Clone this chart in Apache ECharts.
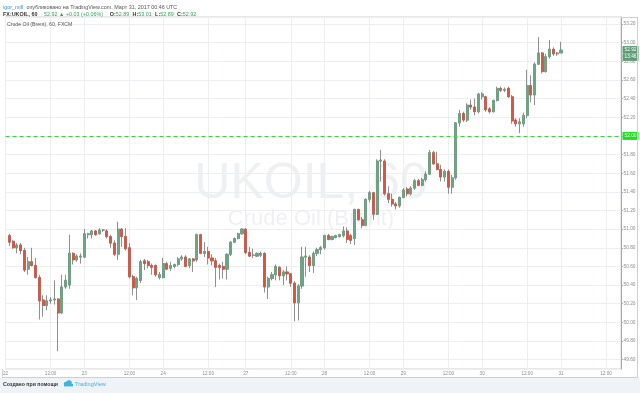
<!DOCTYPE html>
<html><head><meta charset="utf-8">
<script src="https://cdn.jsdelivr.net/npm/echarts@6/dist/echarts.min.js"></script>
<style>html,body{margin:0;padding:0;background:#fff}#c{width:640px;height:393px}</style>
</head><body><div id="c"></div>
<script>
// ---- data ----
const tradingDays = ['22','23','24','27','28','29','30','31'];
const sessionHours = ['00','01','02','03','04','05','06','07','08','09','10','11','12','13','14','15','16','17','18','19','20'];
const sundayBar = '26 23:00';
const slotCount = 165;
const tickHours = ['00:00','12:00'];
const alertLevel = 52.00;
const barTimer = '13:46';

const opens = [null,
50.93,50.87,50.80,50.83,50.77,50.57,50.65,50.61,50.48,50.24,50.18,50.23,50.24,50.25,50.10,50.38,50.40,50.74,50.67,50.70,
50.70,50.94,50.94,50.98,50.95,50.99,50.98,50.92,50.85,50.73,51.00,50.92,50.80,50.49,50.37,50.45,50.66,50.65,50.61,50.61,50.48,
50.48,50.63,50.58,50.60,50.62,50.68,50.70,50.61,50.68,50.67,50.94,50.74,50.76,50.69,50.66,50.61,50.60,50.57,50.73,50.86,50.90,
50.95,
51.00,50.75,50.72,50.71,50.72,50.74,50.38,50.47,50.51,50.59,50.50,50.54,50.52,50.42,50.21,50.39,50.70,50.70,50.61,50.74,50.78,
50.80,50.93,50.89,50.91,50.92,50.93,50.98,50.93,50.90,51.21,51.10,51.04,51.32,51.39,51.16,51.73,51.73,51.38,51.32,51.27,51.25,
51.34,51.43,51.38,51.44,51.52,51.47,51.53,51.59,51.82,51.70,51.64,51.56,51.62,51.45,51.55,52.14,52.24,52.17,52.33,52.31,52.26,
52.42,52.42,52.29,52.26,52.38,52.51,52.49,52.51,52.42,52.17,52.13,52.13,52.22,52.54,52.44,52.77,52.89,52.69,52.85,52.93,52.88,
52.89];
const closes = [null,
50.86,50.80,50.83,50.77,50.56,50.65,50.61,50.48,50.23,50.18,50.23,50.24,50.25,50.10,50.38,50.45,50.74,50.67,50.71,50.71,
50.95,50.95,50.98,50.94,50.99,50.99,50.92,50.85,50.73,51.00,50.92,50.79,50.49,50.37,50.47,50.65,50.63,50.61,50.59,50.51,50.51,
50.63,50.57,50.61,50.62,50.68,50.70,50.60,50.68,50.66,50.94,50.74,50.76,50.69,50.66,50.59,50.59,50.57,50.73,50.86,50.90,50.95,
51.00,
50.75,50.71,50.72,50.74,50.74,50.38,50.47,50.51,50.60,50.50,50.54,50.52,50.42,50.21,50.39,50.70,50.71,50.61,50.74,50.78,50.80,
50.93,50.89,50.92,50.93,50.94,50.98,50.89,50.88,51.21,51.10,51.04,51.32,51.39,51.16,51.73,51.74,51.38,51.32,51.27,51.25,51.34,
51.42,51.38,51.44,51.52,51.47,51.53,51.59,51.82,51.70,51.64,51.56,51.62,51.45,51.55,52.14,52.24,52.17,52.33,52.31,52.26,52.45,
52.45,52.28,52.26,52.38,52.51,52.49,52.50,52.42,52.16,52.13,52.15,52.22,52.54,52.44,52.77,52.89,52.69,52.85,52.93,52.88,52.89,
52.92];
const lows = [null,
50.82,50.79,50.74,50.73,50.54,50.51,50.60,50.47,50.03,50.06,50.13,50.20,50.19,49.69,50.09,50.36,50.36,50.62,50.65,50.63,
50.69,50.90,50.90,50.93,50.94,50.97,50.90,50.80,50.71,50.67,50.81,50.77,50.47,50.29,50.24,50.42,50.56,50.58,50.51,50.49,50.46,
50.47,50.56,50.55,50.58,50.60,50.66,50.59,50.58,50.54,50.65,50.73,50.70,50.62,50.61,50.38,50.46,50.47,50.46,50.71,50.85,50.89,
50.94,
50.73,50.70,50.69,50.70,50.70,50.32,50.25,50.45,50.45,50.45,50.40,50.45,50.38,50.01,50.02,50.36,50.49,50.54,50.53,50.71,50.73,
50.78,50.88,50.88,50.90,50.91,50.91,50.85,50.84,50.83,51.09,51.01,51.03,51.29,51.10,51.15,51.51,51.36,51.28,51.24,51.21,51.23,
51.33,51.35,51.36,51.42,51.46,51.46,51.51,51.58,51.69,51.63,51.51,51.51,51.38,51.38,51.53,52.10,52.15,52.15,52.28,52.22,52.24,
52.39,52.26,52.24,52.25,52.37,52.47,52.47,52.41,52.13,52.10,52.03,52.10,52.19,52.36,52.33,52.76,52.67,52.68,52.83,52.86,52.86,
52.89];
const highs = [null,
50.95,50.88,50.85,50.85,50.80,50.70,50.80,50.69,50.51,50.29,50.29,50.27,50.45,50.26,50.51,50.51,50.94,50.75,50.73,50.74,
51.00,50.96,50.99,50.99,51.01,51.00,51.00,50.94,50.88,51.08,51.01,51.01,50.85,50.51,50.49,50.67,50.68,50.67,50.63,50.62,50.54,
50.69,50.65,50.65,50.63,50.70,50.72,50.72,50.69,50.69,50.95,50.95,50.86,50.81,50.73,50.69,50.63,50.65,50.74,50.87,50.91,50.96,
51.01,
51.01,50.81,50.79,50.75,50.76,50.75,50.49,50.54,50.62,50.60,50.56,50.60,50.53,50.44,50.41,50.81,50.81,50.72,50.76,50.80,50.82,
50.94,50.95,50.93,50.94,50.95,51.03,51.02,50.95,51.22,51.22,51.13,51.33,51.41,51.40,51.75,51.85,51.75,51.46,51.38,51.29,51.35,
51.44,51.45,51.46,51.54,51.54,51.55,51.62,51.85,51.84,51.83,51.69,51.64,51.64,51.58,52.15,52.28,52.26,52.35,52.39,52.40,52.46,
52.47,52.43,52.31,52.39,52.53,52.53,52.52,52.53,52.44,52.19,52.19,52.25,52.71,52.65,52.79,53.06,52.90,52.88,53.03,52.95,52.90,
53.01];

// ---- build categories and rows ----
const categories = [];
tradingDays.forEach(d => {
  if (d === '27') categories.push(sundayBar);
  sessionHours.forEach(h => categories.push(d + ' ' + h + ':00'));
});
categories.length = slotCount;
const wickRows = [], bodyRows = [];
for (let i = 0; i < slotCount; i++) {
  const o = opens[i], c = closes[i], l = lows[i], h = highs[i];
  if (o == null) { wickRows.push('-'); bodyRows.push('-'); continue; }
  wickRows.push([o, c, l, h]);
  bodyRows.push([o, c, Math.min(o, c), Math.max(o, c)]);
}
const n = opens.length - 1;
const lastO = opens[n], lastC = closes[n], lastH = highs[n], lastL = lows[n];
const chg = lastC - closes[n - 1];
const chgPct = chg / closes[n - 1] * 100;
const isTick = v => tickHours.some(t => v.endsWith(' ' + t));

const UP = '#6ba583', DOWN = '#d75442', WICK = '#737375';
const FONT = 'Liberation Sans';
const chart = echarts.init(document.getElementById('c'), null, {renderer: 'canvas'});
chart.setOption({
  animation: false,
  textStyle: {fontFamily: FONT},
  grid: {left: 1.9, right: 19, top: 17, bottom: 24, show: true, borderColor: '#cdd0d3', borderWidth: 1},
  xAxis: {
    type: 'category', data: categories, boundaryGap: false,
    axisLine: {show: false}, axisTick: {show: false},
    axisLabel: {
      interval: (i, v) => isTick(v), margin: 2.5, fontSize: 4.6, color: '#8c8c8c', fontFamily: FONT,
      formatter: v => v.endsWith(' 00:00') ? v.split(' ')[0] : (v.endsWith(' 12:00') ? '12:00' : '')
    },
    splitLine: {show: true, interval: (i, v) => isTick(v), lineStyle: {color: '#eceef1', width: 1}}
  },
  yAxis: {
    type: 'value', position: 'right', min: 49.499, max: 53.276,
    splitNumber: 19, minInterval: 0.2, maxInterval: 0.2,
    axisLine: {show: true, lineStyle: {color: '#a8a8a8'}},
    axisTick: {show: true, length: 2, lineStyle: {color: '#a8a8a8'}},
    axisLabel: {showMinLabel: false, showMaxLabel: false, margin: 2.5, fontSize: 4.8, color: '#8c8c8c', fontFamily: FONT,
      formatter: v => v.toFixed(2)},
    splitLine: {show: true, lineStyle: {color: '#eceef1', width: 1}}
  },
  series: [
    {
      type: 'candlestick', data: wickRows, barWidth: 2.6, z: 3,
      itemStyle: {color: 'transparent', color0: 'transparent', borderColor: WICK, borderColor0: WICK, borderWidth: 0.8},
      markLine: {
        symbol: ['none', 'none'], silent: true, animation: false,
        data: [
          {yAxis: alertLevel,
           lineStyle: {color: '#39d639', type: [4, 3], width: 1},
           label: {show: true, position: 'end', distance: 1.5, formatter: alertLevel.toFixed(2),
             backgroundColor: '#22dd22', color: '#eaffea', fontSize: 4.8, padding: [1.5, 2], fontFamily: FONT}},
          {yAxis: lastC,
           lineStyle: {color: 'rgba(0,0,0,0)', width: 1},
           label: {show: true, position: 'end', distance: 1.5, offset: [0, 3.3],
             formatter: '{p|' + lastC.toFixed(2) + '}\n{t|' + barTimer + '}',
             rich: {
               p: {backgroundColor: '#5f9b74', color: '#fff', fontSize: 4.8, padding: [1.2, 2], fontFamily: FONT},
               t: {backgroundColor: '#5f9b74', color: '#fff', fontSize: 4.8, padding: [1.2, 2], fontFamily: FONT}
             }}}
        ]
      }
    },
    {
      type: 'candlestick', data: bodyRows, barWidth: 2.6, z: 4,
      itemStyle: {color: UP, color0: DOWN, borderColor: UP, borderColor0: DOWN, borderWidth: 0.6}
    }
  ],
  graphic: [
    {type: 'text', left: 3, top: 2, z: 10, style: {
      text: '{u|igor_mill} {t|опубликовано на TradingView.com, Март 31, 2017 00:46 UTC}',
      rich: {u: {fill: '#3a8fd6', fontSize: 5.4, fontFamily: FONT}, t: {fill: '#555', fontSize: 5.4, fontFamily: FONT}}}},
    {type: 'text', left: 3, top: 9, z: 10, style: {
      text: '{b|FX:UKOIL, 60}  {g|' + lastC.toFixed(2) + ' ▲ +' + chg.toFixed(2) + ' (+' + chgPct.toFixed(2) + '%)}  {b|O:}{g|' + lastO.toFixed(2) + '} {b|H:}{g|' + lastH.toFixed(2) + '} {b|L:}{g|' + lastL.toFixed(2) + '} {b|C:}{g|' + lastC.toFixed(2) + '}',
      rich: {b: {fill: '#333', fontSize: 5.4, fontWeight: 'bold', fontFamily: FONT}, g: {fill: '#3aa05a', fontSize: 5.4, fontFamily: FONT}}}},
    {type: 'text', left: 7, top: 22, z: 10, style: {text: 'Crude Oil (Brent), 60, FXCM', fill: '#555', fontSize: 5.2, fontFamily: FONT}},
    {type: 'text', x: 311, y: 184, z: 0, style: {text: 'UKOIL, 60', fill: '#eef0f2', fontSize: 50, fontFamily: FONT, align: 'center', verticalAlign: 'middle'}},
    {type: 'text', x: 311, y: 219, z: 0, style: {text: 'Crude Oil (Brent)', fill: '#eef0f2', fontSize: 22, fontFamily: FONT, align: 'center', verticalAlign: 'middle'}},
    {type: 'line', z: 10, shape: {x1: 2, y1: 377.5, x2: 638, y2: 377.5}, style: {stroke: '#cdd0d3', lineWidth: 1}},
    {type: 'line', z: 10, shape: {x1: 2.4, y1: 369, x2: 2.4, y2: 377.5}, style: {stroke: '#cdd0d3', lineWidth: 1}},
    {type: 'line', z: 10, shape: {x1: 621, y1: 17.5, x2: 638, y2: 17.5}, style: {stroke: '#cdd0d3', lineWidth: 1}},
    {type: 'line', z: 10, shape: {x1: 637.5, y1: 17.5, x2: 637.5, y2: 377.5}, style: {stroke: '#cdd0d3', lineWidth: 1}},
    {type: 'rect', z: 1, shape: {x: 0, y: 378, width: 640, height: 15}, style: {fill: '#eff2f6'}},
    {type: 'text', left: 3, top: 382, z: 10, style: {text: 'Создано при помощи', fill: '#333', fontSize: 5.2, fontWeight: 'bold', fontFamily: FONT}},
    {type: 'circle', z: 10, shape: {cx: 66, cy: 384, r: 2.2}, style: {fill: '#3bb3e4'}},
    {type: 'circle', z: 10, shape: {cx: 69, cy: 383, r: 2.8}, style: {fill: '#3bb3e4'}},
    {type: 'rect', z: 10, shape: {x: 64, y: 384, width: 9, height: 2.4}, style: {fill: '#3bb3e4'}},
    {type: 'text', left: 75, top: 381.5, z: 10, style: {text: 'TradingView', fill: '#3bb3e4', fontSize: 5.6, fontFamily: FONT}}
  ]
});
</script></body></html>
